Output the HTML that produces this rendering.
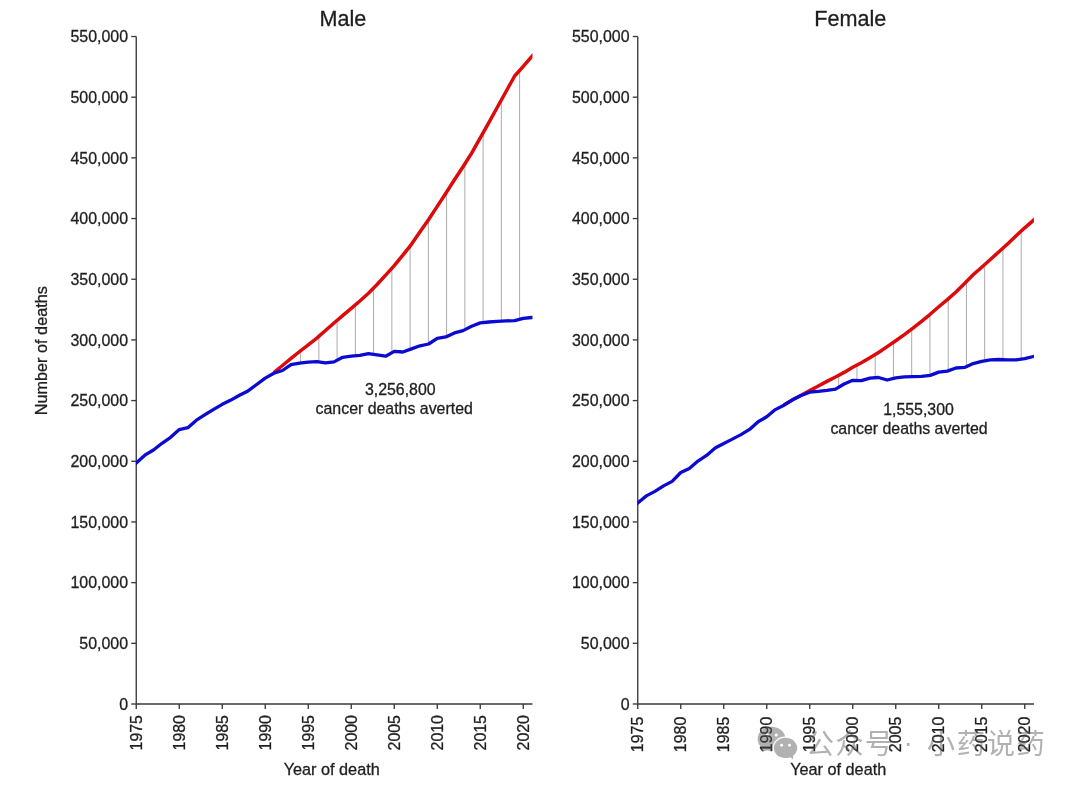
<!DOCTYPE html>
<html lang="en"><head><meta charset="utf-8"><title>Cancer deaths averted</title>
<style>html,body{margin:0;padding:0;background:#fff}body{width:1080px;height:787px;overflow:hidden}svg{display:block}text{font-family:"Liberation Sans","Noto Sans CJK SC",sans-serif;fill:#1f1f1f;stroke:#1f1f1f;stroke-width:0.3px}</style></head><body>
<svg width="1080" height="787" viewBox="0 0 1080 787">
<rect width="1080" height="787" fill="#fff"/>
<g stroke="#ababab" stroke-width="1" fill="none">
<line x1="300.60" y1="350.76" x2="300.60" y2="363.09"/>
<line x1="318.85" y1="336.33" x2="318.85" y2="361.98"/>
<line x1="337.10" y1="320.41" x2="337.10" y2="360.27"/>
<line x1="355.35" y1="304.87" x2="355.35" y2="355.82"/>
<line x1="373.60" y1="287.99" x2="373.60" y2="354.32"/>
<line x1="391.85" y1="268.25" x2="391.85" y2="352.74"/>
<line x1="410.10" y1="246.01" x2="410.10" y2="349.39"/>
<line x1="428.35" y1="219.93" x2="428.35" y2="344.06"/>
<line x1="446.60" y1="192.12" x2="446.60" y2="336.55"/>
<line x1="464.85" y1="163.93" x2="464.85" y2="329.68"/>
<line x1="483.10" y1="132.80" x2="483.10" y2="322.60"/>
<line x1="501.35" y1="99.97" x2="501.35" y2="321.07"/>
<line x1="519.60" y1="70.42" x2="519.60" y2="319.32"/>
</g>
<g stroke="#3a3a3a" stroke-width="1.35" fill="none">
<path d="M136.25,36.52 V704.00 H532.45"/>
<line x1="131.25" y1="704.00" x2="136.25" y2="704.00"/>
<line x1="131.25" y1="643.32" x2="136.25" y2="643.32"/>
<line x1="131.25" y1="582.64" x2="136.25" y2="582.64"/>
<line x1="131.25" y1="521.96" x2="136.25" y2="521.96"/>
<line x1="131.25" y1="461.28" x2="136.25" y2="461.28"/>
<line x1="131.25" y1="400.60" x2="136.25" y2="400.60"/>
<line x1="131.25" y1="339.92" x2="136.25" y2="339.92"/>
<line x1="131.25" y1="279.24" x2="136.25" y2="279.24"/>
<line x1="131.25" y1="218.56" x2="136.25" y2="218.56"/>
<line x1="131.25" y1="157.88" x2="136.25" y2="157.88"/>
<line x1="131.25" y1="97.20" x2="136.25" y2="97.20"/>
<line x1="131.25" y1="36.52" x2="136.25" y2="36.52"/>
<line x1="136.25" y1="704.00" x2="136.25" y2="709.00"/>
<line x1="179.25" y1="704.00" x2="179.25" y2="709.00"/>
<line x1="222.25" y1="704.00" x2="222.25" y2="709.00"/>
<line x1="265.25" y1="704.00" x2="265.25" y2="709.00"/>
<line x1="308.25" y1="704.00" x2="308.25" y2="709.00"/>
<line x1="351.25" y1="704.00" x2="351.25" y2="709.00"/>
<line x1="394.25" y1="704.00" x2="394.25" y2="709.00"/>
<line x1="437.25" y1="704.00" x2="437.25" y2="709.00"/>
<line x1="480.25" y1="704.00" x2="480.25" y2="709.00"/>
<line x1="523.25" y1="704.00" x2="523.25" y2="709.00"/>
</g>
<g font-size="15.95" text-anchor="end">
<text x="128.05" y="709.75">0</text>
<text x="128.05" y="649.07">50,000</text>
<text x="128.05" y="588.39">100,000</text>
<text x="128.05" y="527.71">150,000</text>
<text x="128.05" y="467.03">200,000</text>
<text x="128.05" y="406.35">250,000</text>
<text x="128.05" y="345.67">300,000</text>
<text x="128.05" y="284.99">350,000</text>
<text x="128.05" y="224.31">400,000</text>
<text x="128.05" y="163.63">450,000</text>
<text x="128.05" y="102.95">500,000</text>
<text x="128.05" y="42.27">550,000</text>
<text transform="translate(141.55,715.0) rotate(-90)">1975</text>
<text transform="translate(184.55,715.0) rotate(-90)">1980</text>
<text transform="translate(227.55,715.0) rotate(-90)">1985</text>
<text transform="translate(270.55,715.0) rotate(-90)">1990</text>
<text transform="translate(313.55,715.0) rotate(-90)">1995</text>
<text transform="translate(356.55,715.0) rotate(-90)">2000</text>
<text transform="translate(399.55,715.0) rotate(-90)">2005</text>
<text transform="translate(442.55,715.0) rotate(-90)">2010</text>
<text transform="translate(485.55,715.0) rotate(-90)">2015</text>
<text transform="translate(528.55,715.0) rotate(-90)">2020</text>
</g>
<clipPath id="cMale"><rect x="135.95" y="30" width="396.50" height="680"/></clipPath>
<g clip-path="url(#cMale)" fill="none" stroke-linejoin="round">
<path d="M273.85,372.50 L282.45,365.50 L291.05,358.40 L299.65,351.50 L308.25,344.80 L316.85,338.10 L325.45,330.50 L334.05,323.00 L342.65,315.70 L351.25,308.40 L359.85,301.00 L368.45,293.20 L377.05,284.50 L385.65,275.10 L394.25,265.60 L402.85,255.20 L411.45,244.30 L420.05,231.80 L428.65,219.50 L437.25,206.40 L445.85,193.30 L454.45,179.80 L463.05,166.80 L471.65,153.10 L480.25,137.80 L488.85,122.70 L497.45,107.00 L506.05,91.50 L514.65,76.00 L523.25,66.30 L531.85,56.40 L534.85,52.95" stroke="#dc0a0a" stroke-width="3.5"/>
<path d="M133.25,465.59 L136.25,462.90 L144.85,455.20 L153.45,450.00 L162.05,443.30 L170.65,437.30 L179.25,429.60 L187.85,427.70 L196.45,420.20 L205.05,414.70 L213.65,409.40 L222.25,404.30 L230.85,400.10 L239.45,395.20 L248.05,390.90 L256.65,384.50 L265.25,378.10 L273.85,373.20 L282.45,370.50 L291.05,364.70 L299.65,363.20 L308.25,362.20 L316.85,361.70 L325.45,362.90 L334.05,361.90 L342.65,357.30 L351.25,356.20 L359.85,355.40 L368.45,353.60 L377.05,354.80 L385.65,356.20 L394.25,351.40 L402.85,352.00 L411.45,348.90 L420.05,345.80 L428.65,344.00 L437.25,338.40 L445.85,336.90 L454.45,332.90 L463.05,330.60 L471.65,326.20 L480.25,322.90 L488.85,322.00 L497.45,321.30 L506.05,320.80 L514.65,320.70 L523.25,318.30 L531.85,317.50 L534.85,317.22" stroke="#0a0ad2" stroke-width="3.3"/>
</g>
<text x="342.9" y="25.9" font-size="21.6" text-anchor="middle">Male</text>
<text x="331.7" y="774.6" font-size="16.25" text-anchor="middle">Year of death</text>
<text x="400.3" y="395.3" font-size="15.9" text-anchor="middle">3,256,800</text>
<text x="394.2" y="413.6" font-size="15.9" text-anchor="middle">cancer deaths averted</text>
<g stroke="#ababab" stroke-width="1" fill="none">
<line x1="838.70" y1="375.32" x2="838.70" y2="387.30"/>
<line x1="856.95" y1="365.05" x2="856.95" y2="380.50"/>
<line x1="875.20" y1="354.56" x2="875.20" y2="377.73"/>
<line x1="893.45" y1="342.28" x2="893.45" y2="378.39"/>
<line x1="911.70" y1="329.13" x2="911.70" y2="376.64"/>
<line x1="929.95" y1="314.47" x2="929.95" y2="375.42"/>
<line x1="948.20" y1="298.85" x2="948.20" y2="370.79"/>
<line x1="966.45" y1="281.58" x2="966.45" y2="366.56"/>
<line x1="984.70" y1="264.56" x2="984.70" y2="360.82"/>
<line x1="1002.95" y1="248.17" x2="1002.95" y2="359.64"/>
<line x1="1021.20" y1="231.06" x2="1021.20" y2="359.15"/>
</g>
<g stroke="#3a3a3a" stroke-width="1.35" fill="none">
<path d="M637.75,36.52 V704.00 H1033.95"/>
<line x1="632.75" y1="704.00" x2="637.75" y2="704.00"/>
<line x1="632.75" y1="643.32" x2="637.75" y2="643.32"/>
<line x1="632.75" y1="582.64" x2="637.75" y2="582.64"/>
<line x1="632.75" y1="521.96" x2="637.75" y2="521.96"/>
<line x1="632.75" y1="461.28" x2="637.75" y2="461.28"/>
<line x1="632.75" y1="400.60" x2="637.75" y2="400.60"/>
<line x1="632.75" y1="339.92" x2="637.75" y2="339.92"/>
<line x1="632.75" y1="279.24" x2="637.75" y2="279.24"/>
<line x1="632.75" y1="218.56" x2="637.75" y2="218.56"/>
<line x1="632.75" y1="157.88" x2="637.75" y2="157.88"/>
<line x1="632.75" y1="97.20" x2="637.75" y2="97.20"/>
<line x1="632.75" y1="36.52" x2="637.75" y2="36.52"/>
<line x1="637.75" y1="704.00" x2="637.75" y2="709.00"/>
<line x1="680.75" y1="704.00" x2="680.75" y2="709.00"/>
<line x1="723.75" y1="704.00" x2="723.75" y2="709.00"/>
<line x1="766.75" y1="704.00" x2="766.75" y2="709.00"/>
<line x1="809.75" y1="704.00" x2="809.75" y2="709.00"/>
<line x1="852.75" y1="704.00" x2="852.75" y2="709.00"/>
<line x1="895.75" y1="704.00" x2="895.75" y2="709.00"/>
<line x1="938.75" y1="704.00" x2="938.75" y2="709.00"/>
<line x1="981.75" y1="704.00" x2="981.75" y2="709.00"/>
<line x1="1024.75" y1="704.00" x2="1024.75" y2="709.00"/>
</g>
<g font-size="15.95" text-anchor="end">
<text x="629.55" y="709.75">0</text>
<text x="629.55" y="649.07">50,000</text>
<text x="629.55" y="588.39">100,000</text>
<text x="629.55" y="527.71">150,000</text>
<text x="629.55" y="467.03">200,000</text>
<text x="629.55" y="406.35">250,000</text>
<text x="629.55" y="345.67">300,000</text>
<text x="629.55" y="284.99">350,000</text>
<text x="629.55" y="224.31">400,000</text>
<text x="629.55" y="163.63">450,000</text>
<text x="629.55" y="102.95">500,000</text>
<text x="629.55" y="42.27">550,000</text>
<text transform="translate(643.05,716.7) rotate(-90)">1975</text>
<text transform="translate(686.05,716.7) rotate(-90)">1980</text>
<text transform="translate(729.05,716.7) rotate(-90)">1985</text>
<text transform="translate(772.05,716.7) rotate(-90)">1990</text>
<text transform="translate(815.05,716.7) rotate(-90)">1995</text>
<text transform="translate(858.05,716.7) rotate(-90)">2000</text>
<text transform="translate(901.05,716.7) rotate(-90)">2005</text>
<text transform="translate(944.05,716.7) rotate(-90)">2010</text>
<text transform="translate(987.05,716.7) rotate(-90)">2015</text>
<text transform="translate(1030.05,716.7) rotate(-90)">2020</text>
</g>
<clipPath id="cFemale"><rect x="637.45" y="30" width="396.50" height="680"/></clipPath>
<g clip-path="url(#cFemale)" fill="none" stroke-linejoin="round">
<path d="M783.95,405.10 L792.55,399.70 L801.15,395.30 L809.75,390.60 L818.35,386.00 L826.95,381.40 L835.55,377.00 L844.15,372.40 L852.75,367.30 L861.35,362.70 L869.95,357.80 L878.55,352.50 L887.15,346.60 L895.75,340.70 L904.35,334.60 L912.95,328.20 L921.55,321.40 L930.15,314.30 L938.75,306.80 L947.35,299.60 L955.95,292.00 L964.55,283.50 L973.15,274.80 L981.75,267.20 L990.35,259.50 L998.95,251.80 L1007.55,244.00 L1016.15,235.70 L1024.75,227.80 L1033.35,220.40 L1036.35,217.82" stroke="#dc0a0a" stroke-width="3.5"/>
<path d="M634.75,505.34 L637.75,502.90 L646.35,495.90 L654.95,491.40 L663.55,485.90 L672.15,481.40 L680.75,472.50 L689.35,468.50 L697.95,461.10 L706.55,455.40 L715.15,448.00 L723.75,443.50 L732.35,439.10 L740.95,434.60 L749.55,429.40 L758.15,421.70 L766.75,416.80 L775.35,409.60 L783.95,405.20 L792.55,399.80 L801.15,395.50 L809.75,392.20 L818.35,391.40 L826.95,390.40 L835.55,389.20 L844.15,384.00 L852.75,380.30 L861.35,380.70 L869.95,378.10 L878.55,377.50 L887.15,380.00 L895.75,377.80 L904.35,376.90 L912.95,376.60 L921.55,376.30 L930.15,375.40 L938.75,372.10 L947.35,371.10 L955.95,368.00 L964.55,367.40 L973.15,363.60 L981.75,361.30 L990.35,359.90 L998.95,359.50 L1007.55,359.80 L1016.15,359.80 L1024.75,358.70 L1033.35,356.50 L1036.35,355.73" stroke="#0a0ad2" stroke-width="3.3"/>
</g>
<text x="850.2" y="25.9" font-size="21.6" text-anchor="middle">Female</text>
<text x="838.2" y="774.6" font-size="16.25" text-anchor="middle">Year of death</text>
<text x="918.5" y="415.0" font-size="15.9" text-anchor="middle">1,555,300</text>
<text x="909.0" y="433.6" font-size="15.9" text-anchor="middle">cancer deaths averted</text>
<text transform="translate(47.2,350.7) rotate(-90)" font-size="16.25" text-anchor="middle">Number of deaths</text>
<defs>
<mask id="mback" maskUnits="userSpaceOnUse" x="750" y="720" width="60" height="45"><rect x="750" y="720" width="60" height="45" fill="#fff"/><circle cx="767.3" cy="735.0" r="1.6" fill="#000"/><circle cx="776.3" cy="735.0" r="1.6" fill="#000"/><path d="M785.5,737.7 A11.7,10.2 0 1 0 790.44,757.14 L792.9,759.5 L793.33,755.48 A11.7,10.2 0 0 0 785.5,737.7 Z" fill="#000" stroke="#000" stroke-width="2.4"/></mask>
<mask id="mfront" maskUnits="userSpaceOnUse" x="750" y="720" width="60" height="45"><rect x="750" y="720" width="60" height="45" fill="#fff"/><circle cx="781.6" cy="745.2" r="1.45" fill="#000"/><circle cx="789.5" cy="745.2" r="1.45" fill="#000"/></mask>
</defs>
<g opacity="0.45">
<g fill="#555555" mask="url(#mback)">
<ellipse cx="771.5" cy="738.9" rx="13.9" ry="12.1"/>
<path d="M763.4,746.5 L762.0,752.2 L769.0,749.6z"/>
</g>
<path d="M785.5,737.7 A11.7,10.2 0 1 0 790.44,757.14 L792.9,759.5 L793.33,755.48 A11.7,10.2 0 0 0 785.5,737.7 Z" fill="#555555" mask="url(#mfront)"/>
<text x="805.8" y="753.5" font-size="28.3" letter-spacing="1.2" style="fill:#555555;stroke:none;white-space:pre">公众号<tspan dx="0.2" dy="-1.9"> · </tspan><tspan dx="3.6" dy="1.9" letter-spacing="1.6">小药说药</tspan></text>
</g>
</svg></body></html>
